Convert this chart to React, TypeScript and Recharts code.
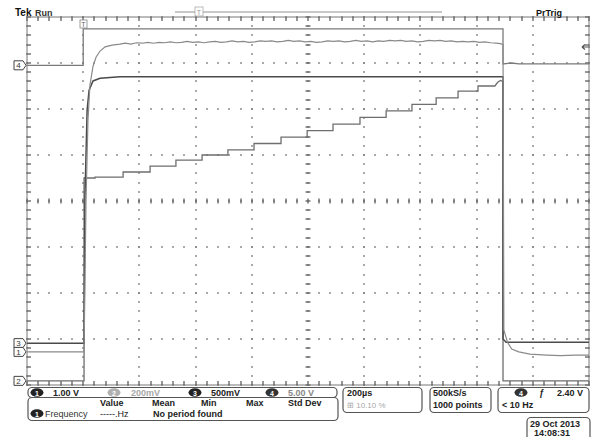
import React from 'react';
import { LineChart, Line, XAxis, YAxis, ReferenceArea } from 'recharts';

// Horizontal axis: time in µs relative to trigger (200 µs/div); vertical: screen divisions from centre
const timeGridUs = [-200, 0, 200, 400, 600, 800, 1000, 1200, 1400, 1600, 1800];
const divGrid = [-4, -3, -2, -1, 0, 1, 2, 3, 4];

// Channel 4 (5.00 V/div) – gate pulse
const ch4Trace: [number, number][] = [
  [-200, 2.95], [0, 2.95], [0, 3.74], [1494, 3.74], [1494, 2.98], [1525, 3.0], [1550, 2.98], [1800, 2.98],
];

// Channel 3 (500 mV/div) – smooth trace
const ch3Trace: [number, number][] = [
  [-200, -3.09], [3, -3.09], [6, 0.02], [14, 1.98], [21, 2.41], [35, 2.61], [60, 2.67], [131, 2.7],
  [1494, 2.7], [1494, -3.0], [1505, -3.07], [1800, -3.07],
];

// Channel 1 (1.00 V/div) – noisy trace
const ch1Trace: [number, number][] = [
  [-200, -3.28], [3, -3.28], [10, 0], [17, 1.76], [24, 2.52], [35, 2.93], [46, 3.13], [60, 3.26], [78, 3.35],
  [103, 3.39], [131, 3.41], [150, 3.43], [170, 3.41], [190, 3.44], [210, 3.43], [230, 3.45], [250, 3.43],
  [270, 3.45], [290, 3.44], [310, 3.46], [330, 3.44], [350, 3.45], [370, 3.47], [390, 3.45], [410, 3.46],
  [430, 3.44], [450, 3.46], [470, 3.47], [490, 3.45], [510, 3.46], [530, 3.48], [550, 3.46], [570, 3.47],
  [590, 3.45], [610, 3.46], [630, 3.48], [650, 3.47], [670, 3.48], [690, 3.46], [710, 3.47], [730, 3.49],
  [750, 3.47], [770, 3.48], [790, 3.46], [810, 3.47], [830, 3.45], [850, 3.46], [870, 3.48], [890, 3.47],
  [910, 3.48], [930, 3.46], [950, 3.47], [970, 3.49], [990, 3.47], [1010, 3.48], [1030, 3.46], [1050, 3.48],
  [1070, 3.47], [1090, 3.49], [1110, 3.48], [1130, 3.49], [1150, 3.47], [1170, 3.48], [1190, 3.46],
  [1210, 3.47], [1230, 3.49], [1250, 3.48], [1270, 3.49], [1290, 3.47], [1310, 3.48], [1330, 3.46],
  [1350, 3.47], [1370, 3.46], [1390, 3.47], [1410, 3.45], [1430, 3.46], [1450, 3.44], [1470, 3.43],
  [1485, 3.42], [1494, 3.4],
  [1497, -2.8], [1510, -3.07], [1525, -3.22], [1550, -3.28], [1590, -3.33], [1650, -3.35], [1700, -3.36],
  [1750, -3.35], [1800, -3.35],
];

// Channel 2 (200 mV/div) – staircase
const ch2Trace: [number, number][] = [
  [-200, -3.91], [3, -3.91], [3, 0.5], [42, 0.5], [42, 0.52], [142, 0.52], [142, 0.63], [238, 0.63],
  [238, 0.76], [330, 0.76], [330, 0.89], [423, 0.89], [423, 1.0], [515, 1.0], [515, 1.11], [608, 1.11],
  [608, 1.25], [704, 1.25], [704, 1.39], [797, 1.39], [797, 1.53], [889, 1.53], [889, 1.67], [985, 1.67],
  [985, 1.82], [1078, 1.82], [1078, 1.96], [1170, 1.96], [1170, 2.1], [1256, 2.1], [1256, 2.24], [1334, 2.24],
  [1334, 2.39], [1405, 2.39], [1405, 2.5], [1465, 2.5], [1475, 2.58], [1485, 2.62], [1494, 2.6],
  [1494, -3.91], [1800, -3.91],
];

// Channel ground markers on the left edge
const markerLevels = [2.95, -3.09, -3.28, -3.91];
const markerLabels = ['4', '3', '1', '2'];

const toPts = (arr: [number, number][]) => arr.map(([t, v]) => ({ t, v }));

const FONT = '"Liberation Sans", Arial, sans-serif';

// plot frame (matches chart margins below)
const PL = 27, PT = 17, PW = 562, PH = 368;

const Graticule = () => {
  const els: any[] = [];
  const dx = PW / 50, dy = PH / 40;
  const c = '#7c7c7c';
  let k = 0;
  const dot = (x: number, y: number) => (
    <rect key={k++} x={Math.round(x) - 0.8} y={Math.round(y) - 0.8} width={1.6} height={1.6} fill={c} />
  );
  timeGridUs.forEach((_, i) => {
    const x = PL + (i * PW) / (timeGridUs.length - 1);
    for (let j = 0; j <= 40; j++) els.push(dot(x, PT + j * dy));
  });
  divGrid.forEach((_, i) => {
    const y = PT + (i * PH) / (divGrid.length - 1);
    for (let j = 0; j <= 50; j++) els.push(dot(PL + j * dx, y));
  });
  const cx = PL + PW / 2, cy = PT + PH / 2;
  const tc = '#6a6a6a';
  for (let j = 0; j <= 50; j++) {
    const x = Math.round(PL + j * dx);
    els.push(<rect key={k++} x={x - 0.7} y={cy - 2.5} width={1.4} height={5} fill={tc} />);
    els.push(<rect key={k++} x={x - 0.7} y={PT} width={1.4} height={4} fill={tc} />);
    els.push(<rect key={k++} x={x - 0.7} y={PT + PH - 4} width={1.4} height={4} fill={tc} />);
  }
  for (let j = 0; j <= 40; j++) {
    const y = Math.round(PT + j * dy);
    els.push(<rect key={k++} x={cx - 2.5} y={y - 0.7} width={5} height={1.4} fill={tc} />);
    els.push(<rect key={k++} x={PL} y={y - 0.7} width={4} height={1.4} fill={tc} />);
    els.push(<rect key={k++} x={PL + PW - 4} y={y - 0.7} width={4} height={1.4} fill={tc} />);
  }
  return (
    <svg width={593} height={437} style={{ position: 'absolute', left: 0, top: 0 }}>
      {els}
    </svg>
  );
};

const ChannelTick = (props: any) => {
  const { x, y, payload } = props;
  const idx = markerLevels.indexOf(payload.value);
  const label = idx >= 0 ? markerLabels[idx] : '';
  return (
    <g>
      <path d={`M${x - 13},${y - 4.5} h9 l3,4.5 l-3,4.5 h-9 z`} fill="#fff" stroke="#444" strokeWidth={1} />
      <text x={x - 8.5} y={y + 3} fontSize={8} textAnchor="middle" fontFamily={FONT} fill="#333">
        {label}
      </text>
    </g>
  );
};

const Chrome = () => {
  const t = { fontFamily: FONT, fontSize: 9, fontWeight: 700, fill: '#222' } as any;
  const g = { ...t, fill: '#a8a8a8' };
  const box = { fill: '#fff', stroke: '#555', strokeWidth: 1.2 } as any;
  const icon = (cx: number, cy: number, n: string, col: string) => (
    <g>
      <ellipse cx={cx} cy={cy} rx={6.5} ry={4.3} fill={col} />
      <text x={cx} y={cy + 3} fontSize={7} fontWeight={700} textAnchor="middle" fill="#fff" fontFamily={FONT}>{n}</text>
    </g>
  );
  return (
    <svg width={593} height={437} style={{ position: 'absolute', left: 0, top: 0, pointerEvents: 'none' }}>
      <text x={15} y={16} fontFamily={FONT} fontSize={10} fontWeight={700} fill="#111">Tek</text>
      <text x={35} y={16} fontFamily={FONT} fontSize={9} fontWeight={700} fill="#333">Run</text>
      <line x1={175} y1={12} x2={442} y2={12} stroke="#c8c8c8" strokeWidth={2} />
      <rect x={195} y={7} width={8} height={9} fill="#fff" stroke="#aaa" strokeWidth={0.8} />
      <text x={199} y={14.5} fontSize={7} textAnchor="middle" fill="#999" fontFamily={FONT}>T</text>
      <text x={536} y={16} {...t} fill="#111">PrTrig</text>
      <rect x={80} y={20} width={7} height={8} fill="#fff" stroke="#888" strokeWidth={0.8} />
      <text x={83.5} y={26.5} fontSize={7} textAnchor="middle" fill="#666" fontFamily={FONT}>T</text>
      <path d="M582,47 L590,47 M582,47 L585,44.5 M582,47 L585,49.5" stroke="#555" strokeWidth={1.2} fill="none" />

      <rect x={28} y={387.5} width={309} height={10} rx={4} {...box} />
      {icon(37, 392.5, '1', '#222')}
      <text x={53} y={396} {...t}>1.00 V</text>
      {icon(114, 392.5, '2', '#b0b0b0')}
      <text x={131} y={396} {...g}>200mV</text>
      {icon(195, 392.5, '3', '#222')}
      <text x={211} y={396} {...t}>500mV</text>
      {icon(272, 392.5, '4', '#333')}
      <text x={288} y={396} {...t} fill="#888">5.00 V</text>

      <rect x={28} y={397.5} width={310} height={23} rx={4} {...box} />
      <text x={100} y={406} {...t}>Value</text>
      <text x={152} y={406} {...t}>Mean</text>
      <text x={201} y={406} {...t}>Min</text>
      <text x={246} y={406} {...t}>Max</text>
      <text x={288} y={406} {...t}>Std Dev</text>
      {icon(37, 413.5, '1', '#222')}
      <text x={45} y={417} {...t} fontWeight={400} fill="#333">Frequency</text>
      <text x={100} y={417} {...t} fontWeight={400}>-----.Hz</text>
      <text x={153} y={417} {...t}>No period found</text>

      <rect x={343} y={387.5} width={79} height={25} rx={4} {...box} />
      <text x={347} y={396} {...t}>200µs</text>
      <text x={347} y={408} {...g} fontWeight={400} fontSize={8}>⊞ 10.10 %</text>

      <rect x={430} y={387.5} width={61} height={25} rx={4} {...box} />
      <text x={433} y={396} {...t}>500kS/s</text>
      <text x={433} y={408} {...t}>1000 points</text>

      <rect x={498} y={387.5} width={91} height={25} rx={4} {...box} />
      {icon(521, 392.5, '4', '#333')}
      <text x={539} y={396} {...t} fontStyle="italic">ƒ</text>
      <text x={557} y={396} {...t}>2.40 V</text>
      <text x={502} y={408} {...t}>&lt; 10 Hz</text>

      <rect x={527} y={417.5} width={63} height={24} rx={4} {...box} />
      <text x={530} y={427} {...t}>29 Oct  2013</text>
      <text x={534} y={436} {...t}>14:08:31</text>
    </svg>
  );
};

export default function App() {
  return (
    <div style={{ position: 'absolute', left: 0, top: 0, width: 593, height: 437, background: '#fff' }}>
      <Graticule />
      <div style={{ position: 'absolute', left: 0, top: 0 }}>
        <LineChart width={593} height={437} margin={{ top: PT, right: 593 - PL - PW, bottom: 437 - PT - PH, left: 0 }}>
          <XAxis type="number" dataKey="t" domain={[-200, 1800]} ticks={timeGridUs} allowDataOverflow hide />
          <YAxis
            type="number"
            domain={[-4, 4]}
            allowDataOverflow
            width={PL}
            ticks={markerLevels}
            interval={0}
            tickSize={0}
            tickMargin={0}
            axisLine={false}
            tickLine={false}
            tick={<ChannelTick />}
          />
          <ReferenceArea x1={-200} x2={1800} y1={-4} y2={4} fill="none" stroke="#777" strokeWidth={1} ifOverflow="visible" />
          <Line data={toPts(ch2Trace)} dataKey="v" type="linear" stroke="#6e6e6e" strokeWidth={1.3} dot={false} isAnimationActive={false} />
          <Line data={toPts(ch4Trace)} dataKey="v" type="linear" stroke="#7a7a7a" strokeWidth={1.3} dot={false} isAnimationActive={false} />
          <Line data={toPts(ch3Trace)} dataKey="v" type="linear" stroke="#4a4a4a" strokeWidth={1.5} dot={false} isAnimationActive={false} />
          <Line data={toPts(ch1Trace)} dataKey="v" type="linear" stroke="#8a8a8a" strokeWidth={1.2} dot={false} isAnimationActive={false} />
        </LineChart>
      </div>
      <Chrome />
    </div>
  );
}
